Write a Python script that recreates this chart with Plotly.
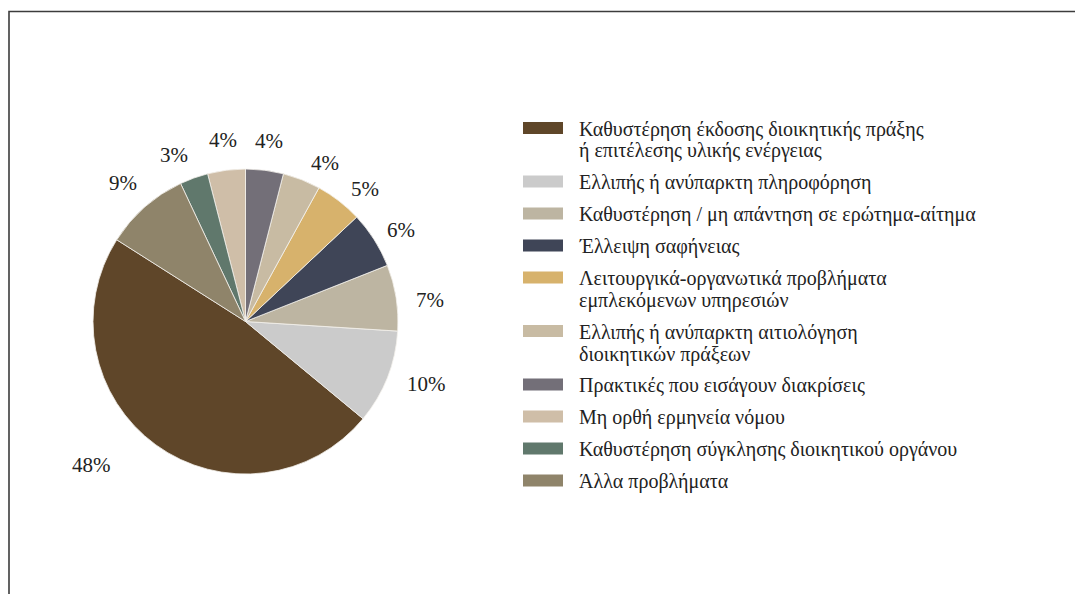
import math
import plotly.graph_objects as go

# ---------- data ----------
labels = [
    "Καθυστέρηση έκδοσης διοικητικής πράξης<br>ή επιτέλεσης υλικής ενέργειας",
    "Ελλιπής ή ανύπαρκτη πληροφόρηση",
    "Καθυστέρηση / μη απάντηση σε ερώτημα-αίτημα",
    "Έλλειψη σαφήνειας",
    "Λειτουργικά-οργανωτικά προβλήματα<br>εμπλεκόμενων υπηρεσιών",
    "Ελλιπής ή ανύπαρκτη αιτιολόγηση<br>διοικητικών πράξεων",
    "Πρακτικές που εισάγουν διακρίσεις",
    "Μη ορθή ερμηνεία νόμου",
    "Καθυστέρηση σύγκλησης διοικητικού οργάνου",
    "Άλλα προβλήματα",
]
values = [48, 10, 7, 6, 5, 4, 4, 4, 3, 9]
colors = ["#5f4629", "#cbcbcb", "#bdb5a2", "#3f4557", "#d7b26c",
          "#c8bba3", "#736f78", "#cfbea8", "#60786c", "#8f846a"]

# label placement tweaks (angle deg, extra radius px) – best-fit style like the original
label_nudge = [(-11, 28), (2.6, 9), (-2.2, 3), (-2, -2), (-4.3, -4),
               (-5, -5), (-0.3, 0), (0, 0), (3.5, -1.5), (0, 2)]

W, H = 1083, 594
OFF = 8  # page body margin
FONT = "Liberation Serif"


def px(x):
    return (x - OFF) / W


def py(y):
    return 1 - (y - OFF) / H


fig = go.Figure()

# ---- pie ----
cx, cy, r = 245.5, 321.5, 152.5
total = sum(values)
start = 147.6  # degrees, counterclockwise from 3 o'clock, where the first slice begins
fig.add_trace(go.Pie(
    labels=labels,
    values=values,
    sort=False,
    direction="counterclockwise",
    rotation=90 - (start + 360 * values[0] / total) + 360,
    marker=dict(colors=colors, line=dict(color="#f4f1ec", width=0.8)),
    textinfo="none",
    showlegend=False,
    hoverinfo="label+percent",
    domain=dict(x=[px(cx - r), px(cx + r)], y=[py(cy + r), py(cy - r)]),
))

# ---- percentage labels, placed at each slice's mid angle ----
annotations = []
acc = 0
for v, (da, dr) in zip(values, label_nudge):
    mid = start + 360 * (acc + v / 2) / total + da
    acc += v
    dist = r + 30 + dr
    x = cx + dist * math.cos(math.radians(mid))
    y = cy - dist * math.sin(math.radians(mid))
    annotations.append(dict(text=f"{v}%", xref="paper", yref="paper",
                            x=px(x), y=py(y), xanchor="center", yanchor="middle",
                            showarrow=False,
                            font=dict(family=FONT, size=21, color="#222222")))

# ---- legend (drawn by hand: wide swatches, tight line spacing) ----
shapes = []
y = 128
for lab, col in zip(labels, colors):
    shapes.append(dict(type="rect", xref="paper", yref="paper",
                       x0=px(523), x1=px(563), y0=py(y + 6), y1=py(y - 6),
                       fillcolor=col, line=dict(width=0)))
    lines = lab.split("<br>")
    for i, line in enumerate(lines):
        annotations.append(dict(text=line, xref="paper", yref="paper",
                                x=px(577), y=py(y + 1 + 22 * i), xanchor="left", yanchor="middle",
                                align="left", showarrow=False,
                                font=dict(family=FONT, size=20, color="#222222")))
    y += 32 + 21.5 * (len(lines) - 1)

# frame (top and left edges visible)
shapes.append(dict(type="rect", xref="paper", yref="paper",
                   x0=px(9), x1=1.02, y0=-0.02, y1=py(11.5),
                   line=dict(color="#3c3c3c", width=1.6), fillcolor="rgba(0,0,0,0)"))

fig.update_layout(
    width=W, height=H,
    margin=dict(l=0, r=0, t=0, b=0),
    paper_bgcolor="white",
    plot_bgcolor="white",
    shapes=shapes,
    annotations=annotations,
)

fig.write_html("out.html")
